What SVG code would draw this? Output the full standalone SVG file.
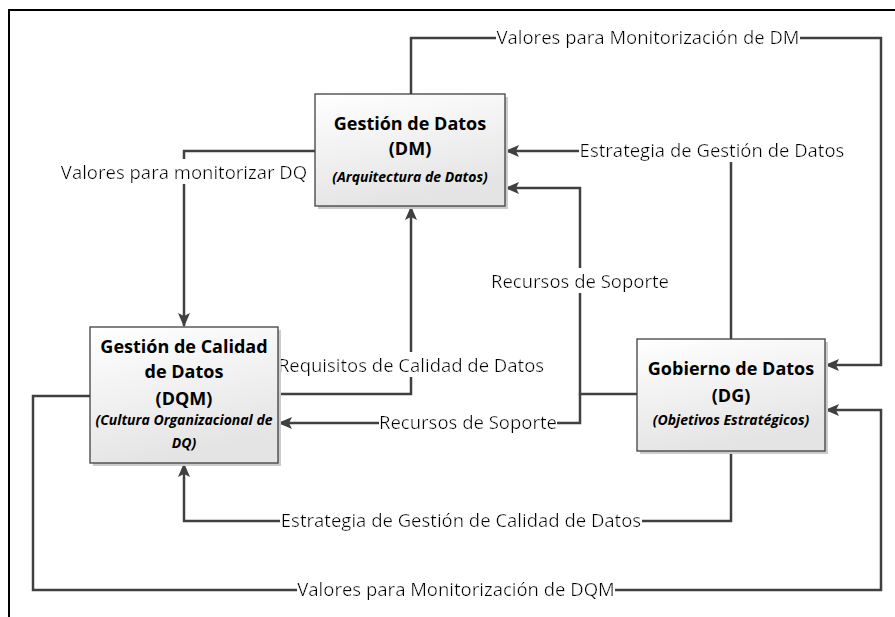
<svg xmlns="http://www.w3.org/2000/svg" width="895" height="617" viewBox="0 0 895 617">
<defs>
<linearGradient id="g" x1="0" y1="0" x2="0.3" y2="1"><stop offset="0" stop-color="#ffffff"/><stop offset="1" stop-color="#e4e4e4"/></linearGradient>
<marker id="ah" viewBox="0 0 14 12" refX="13" refY="6" markerWidth="14" markerHeight="12" markerUnits="userSpaceOnUse" orient="auto"><path d="M0,0 L14,6 L0,12 L3,6 z" fill="#404040"/></marker>
<filter id="bg" x="0" y="0" width="1" height="1"><feFlood flood-color="#ffffff"/><feComposite in="SourceGraphic" operator="over"/></filter>
<style>
.c{fill:none;stroke:#404040;stroke-width:2.5}
.a{marker-end:url(#ah)}
.l{font-family:"Open Sans","Liberation Sans",sans-serif;font-size:18.5px;fill:#000;text-anchor:middle}
.box{fill:url(#g);stroke:#404040;stroke-width:1.3}
.sh{fill:#cccccc}
.t{font-family:"Open Sans","Liberation Sans",sans-serif;font-weight:bold;font-size:18px;text-anchor:middle;fill:#000}
.s{font-family:"Open Sans","Liberation Sans",sans-serif;font-weight:bold;font-style:italic;font-size:14px;text-anchor:middle;fill:#000}
</style>
</defs>
<rect width="895" height="617" fill="#ffffff"/>
<path d="M9,617 V10 H895" fill="none" stroke="#000" stroke-width="2"/>
<g id="connectors">
<path class="c a" d="M411,94 V38 H881 V365 H826"/>
<path class="c a" d="M315,151 H184 V326"/>
<path class="c a" d="M731,339 V151 H506"/>
<path class="c a" d="M637,394 H580 V188 H506"/>
<path class="c a" d="M580,394 V423 H279"/>
<path class="c a" d="M278,394 H411 V207"/>
<path class="c a" d="M731,451 V521 H184 V464"/>
<path class="c a" d="M90,396 H33 V590 H881 V410 H826"/>
</g>
<g id="labels">
<text class="l" x="648" y="44" filter="url(#bg)">Valores para Monitorización de DM</text>
<text class="l" x="712" y="157" filter="url(#bg)">Estrategia de Gestión de Datos</text>
<text class="l" x="184" y="179" filter="url(#bg)">Valores para monitorizar DQ</text>
<text class="l" x="580" y="288" filter="url(#bg)">Recursos de Soporte</text>
<text class="l" x="411" y="372" filter="url(#bg)">Requisitos de Calidad de Datos</text>
<text class="l" x="468" y="429" filter="url(#bg)">Recursos de Soporte</text>
<text class="l" x="461" y="527" filter="url(#bg)">Estrategia de Gestión de Calidad de Datos</text>
<text class="l" x="456" y="596" filter="url(#bg)">Valores para Monitorización de DQM</text>
</g>
<g id="DM">
<rect class="sh" x="318" y="97" width="190" height="112"/>
<rect class="box" x="315" y="94" width="190" height="112"/>
<text class="t" x="410" y="130">Gestión de Datos</text>
<text class="t" x="410" y="155">(DM)</text>
<text class="s" x="410" y="182">(Arquitectura de Datos)</text>
</g>
<g id="DQM">
<rect class="sh" x="93" y="330" width="188" height="136"/>
<rect class="box" x="90" y="327" width="188" height="136"/>
<text class="t" x="184" y="353">Gestión de Calidad</text>
<text class="t" x="184" y="378">de Datos</text>
<text class="t" x="184" y="405">(DQM)</text>
<text class="s" x="184" y="425">(Cultura Organizacional de</text>
<text class="s" x="184" y="448">DQ)</text>
</g>
<g id="DG">
<rect class="sh" x="640" y="342" width="188" height="112"/>
<rect class="box" x="637" y="339" width="188" height="112"/>
<text class="t" x="731" y="375">Gobierno de Datos</text>
<text class="t" x="731" y="402">(DG)</text>
<text class="s" x="731" y="425">(Objetivos Estratégicos)</text>
</g>
</svg>
